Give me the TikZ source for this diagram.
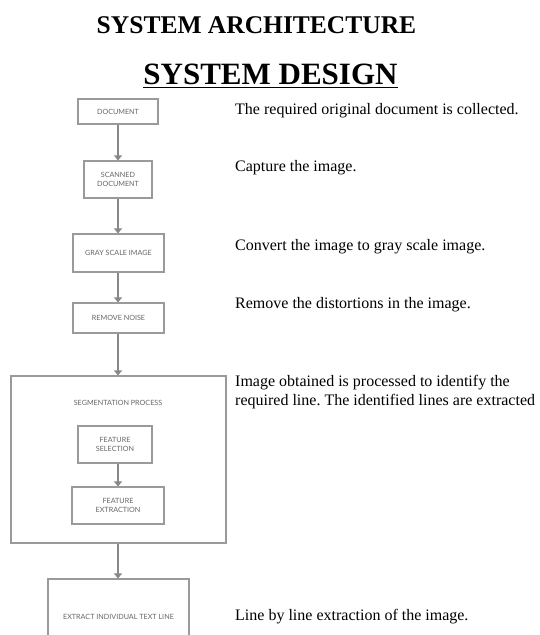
\documentclass[tikz,border=0pt]{standalone}
\usepackage{fontspec}
\setmainfont{Liberation Serif}
\newfontfamily\boxfont{Lato}
\usetikzlibrary{arrows.meta}
\frenchspacing
\definecolor{boxline}{HTML}{9A9A9A}
\definecolor{boxtext}{HTML}{666666}
\definecolor{flow}{HTML}{888888}
\tikzset{
  stepbox/.style={draw=boxline, line width=1.1pt, fill=white, inner sep=0pt,
    font=\boxfont\fontsize{7.2}{9.8}\selectfont, text=boxtext, align=center},
  flowarrow/.style={draw=flow, line width=1.4pt,
    -{Triangle[width=8pt,length=5pt]}},
  note/.style={anchor=base west, inner sep=0pt, font=\fontsize{16}{18.5}\selectfont, align=left},
}
\begin{document}
\begin{tikzpicture}[x=1pt,y=-1pt]
\useasboundingbox (0,0) rectangle (540,635);
\clip (0,0) rectangle (540,635);

% headings
\node[anchor=base, inner sep=0pt, font=\bfseries\fontsize{25.5}{30}\selectfont] (head1) at (256.5,33) {SYSTEM ARCHITECTURE};
\node[anchor=base, inner sep=0pt, font=\bfseries\fontsize{31}{36}\selectfont] (head2) at (270.5,84) {SYSTEM DESIGN};
\draw[line width=1.5pt] (head2.base west) ++(0,3.5) -- ++(255,0);

% flow chart boxes
\node[stepbox, minimum width=80pt, minimum height=25pt] (doc) at (118,111.5) {DOCUMENT};
\node[stepbox, minimum width=68pt, minimum height=37pt] (scan) at (118,179.5) {SCANNED\\DOCUMENT};
\node[stepbox, minimum width=91pt, minimum height=38pt] (gray) at (118.5,253) {GRAY SCALE IMAGE};
\node[stepbox, minimum width=91pt, minimum height=30pt] (noise) at (118.5,318) {REMOVE NOISE};
\node[stepbox, minimum width=215pt, minimum height=167pt] (seg) at (118.5,459.5) {};
\node[inner sep=0pt, font=\boxfont\fontsize{7.2}{9}\selectfont, text=boxtext] (seglabel) at (118,403) {SEGMENTATION PROCESS};
\node[stepbox, minimum width=74pt, minimum height=37pt] (sel) at (115,444.5) {FEATURE\\SELECTION};
\node[stepbox, minimum width=92pt, minimum height=37pt] (ext) at (118,505.5) {FEATURE\\EXTRACTION};
\node[stepbox, minimum width=141pt, minimum height=76pt] (line) at (118.5,617) {EXTRACT INDIVIDUAL TEXT LINE};

% connectors (vertical, along x = 118)
\draw[flowarrow] (doc.south) -- (doc.south |- scan.north);
\draw[flowarrow] (scan.south) -- (scan.south |- gray.north);
\draw[flowarrow] (scan.south |- gray.south) -- (scan.south |- noise.north);
\draw[flowarrow] (scan.south |- noise.south) -- (scan.south |- seg.north);
\draw[flowarrow] (scan.south |- sel.south) -- (scan.south |- ext.north);
\draw[flowarrow] (scan.south |- seg.south) -- (scan.south |- line.north);

% descriptions
\node[note] (n1) at (235,114) {The required original document is collected.};
\node[note] (n2) at (235,171) {Capture the image.};
\node[note] (n3) at (235,250) {Convert the image to gray scale image.};
\node[note] (n4) at (235,308) {Remove the distortions in the image.};
\node[note] (n5) at (235,405) {Image obtained is processed to identify the\\required line. The identified lines are extracted};
\node[note] (n6) at (235,620) {Line by line extraction of the image.};
\end{tikzpicture}
\end{document}
